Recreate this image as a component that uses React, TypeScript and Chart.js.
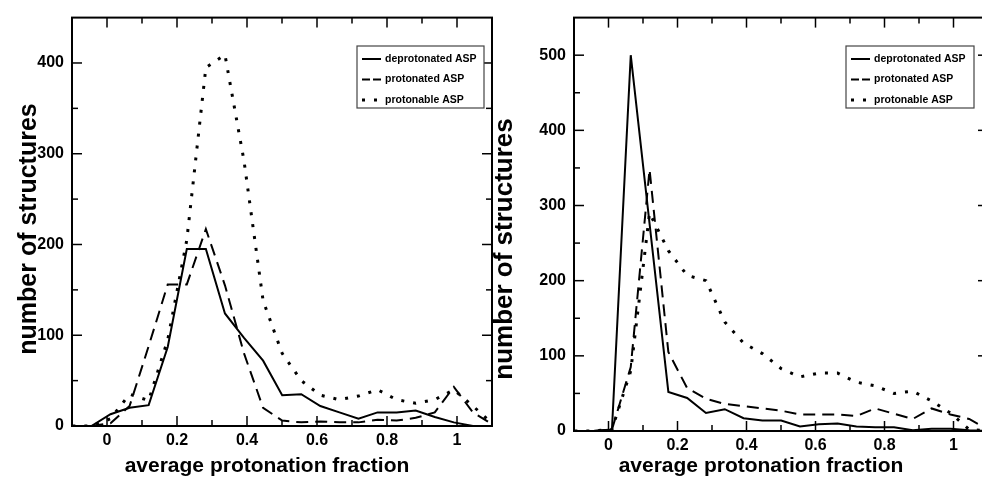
import React, { useEffect, useRef } from "react";
import { Chart, registerables } from "chart.js";

Chart.register(...registerables);

// ---- data ----
const binCenters = [
  -0.099, -0.0445, 0.01, 0.0645, 0.119, 0.1735, 0.228, 0.2825, 0.337, 0.3915, 0.446, 0.5005,
  0.555, 0.6095, 0.664, 0.7185, 0.773, 0.8275, 0.882, 0.9365, 0.991, 1.0455, 1.1,
];
const leftDeprotonated = [0, 0, 13, 20, 23, 87, 195, 195, 124, 97, 72, 34, 35, 22, 15, 8, 15, 15, 17, 10, 4, 0, 0];
const leftProtonated = [0, 0, 3, 22, 88, 156, 156, 217, 155, 80, 20, 6, 4, 5, 4, 4, 7, 6, 9, 15, 43, 15, 2];
const leftProtonable = [0, 0, 8, 35, 28, 95, 205, 395, 409, 292, 138, 80, 50, 34, 29, 33, 40, 29, 25, 29, 40, 22, 3];
const rightDeprotonated = [0, 0, 2, 500, 276, 52, 44, 24, 29, 17, 14, 14, 6, 9, 10, 6, 5, 5, 1, 3, 3, 1, 0];
const rightProtonated = [0, 0, 2, 85, 348, 105, 57, 43, 36, 33, 30, 27, 22, 22, 22, 20, 30, 23, 16, 30, 22, 16, 2];
const rightProtonable = [0, 0, 2, 80, 290, 240, 207, 200, 145, 117, 103, 83, 72, 77, 77, 65, 60, 50, 53, 40, 24, 2, 0];

const seriesLabels = ["deprotonated ASP", "protonated ASP", "protonable ASP"];
const xTickLabels = [0, 0.2, 0.4, 0.6, 0.8, 1];
const xMinorTicks = [0.1, 0.3, 0.5, 0.7, 0.9];
const leftYTicks = [0, 100, 200, 300, 400];
const leftYMinor = [50, 150, 250, 350];
const rightYTicks = [0, 100, 200, 300, 400, 500];
const rightYMinor = [50, 150, 250, 350, 450];
const xTitle = "average protonation fraction";
const yTitle = "number of structures";

const FONT = '"Liberation Sans", Arial, Helvetica, sans-serif';

const lineStyles = [
  { borderWidth: 2, borderDash: [] as number[], legendDash: [] as number[] },
  { borderWidth: 2, borderDash: [12, 7], legendDash: [8, 3] },
  { borderWidth: 3, borderDash: [3, 9], legendDash: [3, 9] },
];

const framePlugin = {
  id: "frame",
  afterDraw(chart: any, _args: any, opts: any) {
    const { ctx, chartArea: a } = chart;
    const xs = chart.scales.x;
    const ys = chart.scales.y;
    ctx.save();
    ctx.strokeStyle = "#000";
    ctx.fillStyle = "#000";
    ctx.setLineDash([]);
    const seg = (x1: number, y1: number, x2: number, y2: number) => {
      ctx.beginPath();
      ctx.moveTo(x1, y1);
      ctx.lineTo(x2, y2);
      ctx.stroke();
    };
    ctx.lineWidth = 1.5;
    const xt = (vals: number[], len: number) =>
      vals.forEach((v) => {
        const p = xs.getPixelForValue(v);
        seg(p, a.bottom, p, a.bottom - len);
        seg(p, a.top, p, a.top + len);
      });
    const yt = (vals: number[], len: number) =>
      vals.forEach((v) => {
        const p = ys.getPixelForValue(v);
        seg(a.left, p, a.left + len, p);
        seg(a.right, p, a.right - len, p);
      });
    xt(xTickLabels, 10);
    xt(xMinorTicks, 6);
    yt(opts.yMajor, 10);
    yt(opts.yMinor, 6);
    ctx.lineWidth = 2;
    ctx.strokeRect(a.left, a.top, a.right - a.left, a.bottom - a.top);

    // axis titles
    ctx.font = `bold 21px ${FONT}`;
    ctx.textAlign = "center";
    ctx.textBaseline = "middle";
    ctx.fillText(xTitle, opts.xTitlePos[0], opts.xTitlePos[1]);
    ctx.save();
    ctx.translate(opts.yTitlePos[0], opts.yTitlePos[1]);
    ctx.rotate(-Math.PI / 2);
    ctx.font = `bold ${opts.yTitleSize}px ${FONT}`;
    ctx.fillText(yTitle, 0, 0);
    ctx.restore();

    // legend
    const [bl, bt, bw, bh] = opts.legendBox;
    ctx.fillStyle = "#fff";
    ctx.fillRect(bl, bt, bw, bh);
    ctx.strokeStyle = "#444";
    ctx.lineWidth = 1.2;
    ctx.strokeRect(bl, bt, bw, bh);
    ctx.font = `bold 10.5px ${FONT}`;
    ctx.textAlign = "left";
    ctx.textBaseline = "middle";
    chart.data.datasets.forEach((ds: any, i: number) => {
      const ry = bt + 13 + i * 20.5;
      ctx.strokeStyle = "#000";
      ctx.lineWidth = ds.borderWidth;
      ctx.setLineDash(lineStyles[i].legendDash);
      ctx.lineCap = "butt";
      seg(bl + 5, ry, bl + 24, ry);
      ctx.setLineDash([]);
      ctx.fillStyle = "#000";
      ctx.fillText(ds.label, bl + 28, ry);
    });
    ctx.restore();
  },
};

function makeConfig(
  series: number[][],
  yMax: number,
  yMajor: number[],
  yMinor: number[],
  padding: any,
  yWidth: number,
  xHeight: number,
  frameOpts: any
): any {
  return {
    type: "line",
    data: {
      datasets: series.map((vals, i) => ({
        label: seriesLabels[i],
        data: binCenters.map((x, j) => ({ x, y: vals[j] })),
        borderColor: "#000",
        borderWidth: lineStyles[i].borderWidth,
        borderDash: lineStyles[i].borderDash,
        borderCapStyle: "butt",
        pointRadius: 0,
        tension: 0,
        fill: false,
      })),
    },
    options: {
      animation: false,
      responsive: false,
      events: [],
      layout: { padding },
      plugins: {
        legend: { display: false },
        tooltip: { enabled: false },
        frame: { ...frameOpts, yMajor, yMinor },
      },
      scales: {
        x: {
          type: "linear",
          min: -0.1,
          max: 1.1,
          afterBuildTicks: (s: any) => {
            s.ticks = xTickLabels.map((v) => ({ value: v }));
          },
          afterFit: (s: any) => {
            s.height = xHeight;
          },
          grid: { display: false, drawTicks: false },
          border: { display: false },
          ticks: {
            color: "#000",
            padding: 5,
            autoSkip: false,
            maxRotation: 0,
            font: { family: FONT, size: 16, weight: "bold" },
            callback: (v: any) => String(Math.round(Number(v) * 10) / 10),
          },
        },
        y: {
          type: "linear",
          min: 0,
          max: yMax,
          afterBuildTicks: (s: any) => {
            s.ticks = yMajor.map((v) => ({ value: v }));
          },
          afterFit: (s: any) => {
            s.width = yWidth;
          },
          grid: { display: false, drawTicks: false },
          border: { display: false },
          ticks: {
            color: "#000",
            padding: 8,
            autoSkip: false,
            font: { family: FONT, size: 16, weight: "bold" },
            callback: (v: any) => String(v),
          },
        },
      },
    },
    plugins: [framePlugin],
  };
}

const RIGHT_OFFSET = 480;

export default function App() {
  const leftRef = useRef<HTMLCanvasElement>(null);
  const rightRef = useRef<HTMLCanvasElement>(null);

  useEffect(() => {
    const left = new Chart(
      leftRef.current as HTMLCanvasElement,
      makeConfig(
        [leftDeprotonated, leftProtonated, leftProtonable],
        450,
        leftYTicks,
        leftYMinor,
        { top: 16, right: 8, left: 0, bottom: 0 },
        72,
        53,
        {
          xTitlePos: [267, 466],
          yTitlePos: [29, 229],
          yTitleSize: 25,
          legendBox: [357, 46, 127, 62],
        }
      )
    );
    const right = new Chart(
      rightRef.current as HTMLCanvasElement,
      makeConfig(
        [rightDeprotonated, rightProtonated, rightProtonable],
        550,
        rightYTicks,
        rightYMinor,
        { top: 16, right: 2, left: 0, bottom: 0 },
        574 - RIGHT_OFFSET,
        48,
        {
          xTitlePos: [761 - RIGHT_OFFSET, 466],
          yTitlePos: [505 - RIGHT_OFFSET, 249],
          yTitleSize: 26,
          legendBox: [846 - RIGHT_OFFSET, 46, 128, 62],
        }
      )
    );
    return () => {
      left.destroy();
      right.destroy();
    };
  }, []);

  return (
    <div
      style={{
        position: "fixed",
        left: 0,
        top: 0,
        width: 982,
        height: 479,
        overflow: "hidden",
        background: "#fff",
      }}
    >
      <canvas
        ref={leftRef}
        width={500}
        height={479}
        style={{ position: "absolute", left: 0, top: 0, width: 500, height: 479 }}
      />
      <canvas
        ref={rightRef}
        width={510}
        height={479}
        style={{ position: "absolute", left: RIGHT_OFFSET, top: 0, width: 510, height: 479 }}
      />
    </div>
  );
}
